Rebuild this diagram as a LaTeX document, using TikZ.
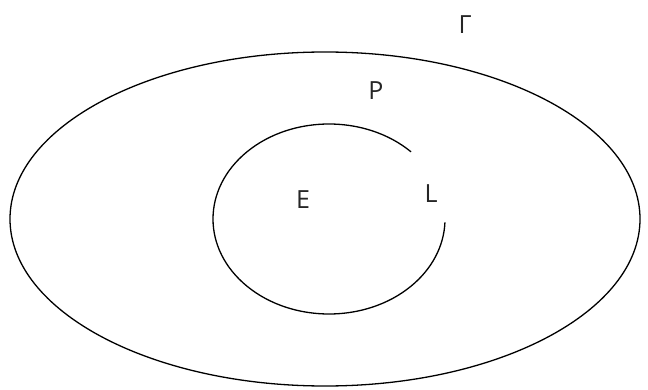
\documentclass[tikz,border=0pt]{standalone}
\usepackage{fontspec}
\setmainfont{Open Sans}
\usepackage{tikz}

\begin{document}
\begin{tikzpicture}[
    x=1pt, y=1pt,
    region/.style={draw=black, line width=1.3pt},
    sym/.style={font=\fontsize{25}{25}\selectfont, text=black!85, inner sep=0pt}
]
\useasboundingbox (0,0) rectangle (648,389);

% centres
\coordinate (cg) at (325,170);
\coordinate (ce) at (329,170);

% outer region
\draw[region] (cg) ellipse [x radius=315, y radius=167];

% inner region, open at the upper right
\draw[region] (ce) ++(45:116 and 95)
    arc[start angle=45, end angle=358, x radius=116, y radius=95];

% labels
\node[sym] (gamma) at (465,364) {Γ};
\node[sym] (p) at (376,298) {P};
\node[sym] (e) at (303,189) {E};
\node[sym] (l) at (431,195) {L};

\end{tikzpicture}
\end{document}
